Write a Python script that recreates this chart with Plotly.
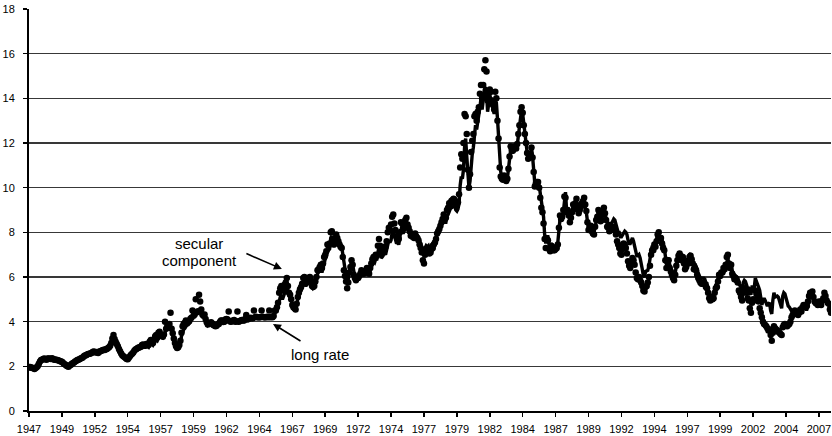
import plotly.graph_objects as go

# Monthly values, Jan 1947 .. Dec 2007 (12 per row = one year)
long_rate = [
    1.95, 1.96, 1.95, 1.93, 1.92, 1.90, 1.92, 1.95, 2.00, 2.10, 2.20, 2.25,  # 1947
    2.28, 2.30, 2.32, 2.30, 2.30, 2.32, 2.33, 2.33, 2.32, 2.33, 2.32, 2.30,  # 1948
    2.30, 2.28, 2.27, 2.25, 2.25, 2.22, 2.18, 2.15, 2.10, 2.08, 2.05, 2.02,  # 1949
    2.00, 2.02, 2.05, 2.10, 2.12, 2.15, 2.20, 2.22, 2.25, 2.28, 2.30, 2.32,  # 1950
    2.35, 2.38, 2.42, 2.45, 2.48, 2.50, 2.52, 2.55, 2.55, 2.58, 2.62, 2.65,  # 1951
    2.62, 2.60, 2.62, 2.58, 2.62, 2.65, 2.68, 2.68, 2.72, 2.70, 2.72, 2.75,  # 1952
    2.78, 2.80, 2.85, 2.95, 3.10, 3.25, 3.15, 3.05, 2.95, 2.85, 2.75, 2.65,  # 1953
    2.55, 2.48, 2.45, 2.40, 2.35, 2.30, 2.30, 2.35, 2.42, 2.48, 2.52, 2.58,  # 1954
    2.65, 2.70, 2.72, 2.75, 2.78, 2.80, 2.82, 2.88, 2.90, 2.85, 2.85, 2.90,  # 1955
    2.88, 2.85, 2.95, 3.00, 3.00, 2.95, 3.05, 3.15, 3.20, 3.15, 3.30, 3.35,  # 1956
    3.40, 3.35, 3.30, 3.40, 3.55, 3.65, 3.75, 3.85, 3.85, 3.80, 3.65, 3.45,  # 1957
    3.15, 3.00, 2.95, 2.85, 2.85, 2.90, 3.05, 3.35, 3.55, 3.65, 3.70, 3.80,  # 1958
    3.90, 3.95, 4.00, 4.10, 4.15, 4.20, 4.25, 4.30, 4.35, 4.40, 4.45, 4.50,  # 1959
    4.55, 4.45, 4.30, 4.25, 4.30, 4.10, 3.95, 3.85, 3.90, 3.90, 3.95, 3.90,  # 1960
    3.85, 3.85, 3.80, 3.80, 3.85, 3.85, 3.95, 4.00, 4.00, 3.95, 3.95, 4.05,  # 1961
    4.10, 4.10, 4.05, 4.00, 4.00, 4.00, 4.05, 4.05, 4.00, 4.00, 4.00, 4.00,  # 1962
    4.00, 4.05, 4.05, 4.05, 4.05, 4.10, 4.10, 4.10, 4.10, 4.15, 4.15, 4.15,  # 1963
    4.15, 4.20, 4.20, 4.20, 4.20, 4.20, 4.20, 4.20, 4.20, 4.20, 4.20, 4.20,  # 1964
    4.20, 4.20, 4.20, 4.20, 4.20, 4.20, 4.20, 4.25, 4.35, 4.45, 4.60, 4.80,  # 1965
    4.90, 5.10, 5.20, 5.00, 5.15, 5.25, 5.35, 5.55, 5.40, 5.15, 5.10, 4.90,  # 1966
    4.70, 4.65, 4.60, 4.60, 4.80, 5.05, 5.20, 5.35, 5.40, 5.55, 5.80, 5.85,  # 1967
    5.60, 5.65, 5.80, 5.70, 5.85, 5.75, 5.55, 5.50, 5.55, 5.70, 5.90, 6.15,  # 1968
    6.20, 6.30, 6.35, 6.20, 6.40, 6.70, 6.80, 6.90, 7.20, 7.20, 7.25, 7.75,  # 1969
    7.85, 7.55, 7.35, 7.55, 7.75, 7.65, 7.55, 7.45, 7.35, 7.35, 7.00, 6.50,  # 1970
    6.25, 6.05, 5.80, 5.90, 6.25, 6.45, 6.70, 6.55, 6.15, 6.00, 5.90, 6.00,  # 1971
    6.00, 6.10, 6.15, 6.25, 6.15, 6.15, 6.15, 6.15, 6.30, 6.25, 6.10, 6.30,  # 1972
    6.45, 6.60, 6.70, 6.65, 6.80, 6.75, 7.10, 7.35, 7.15, 6.85, 6.90, 6.95,  # 1973
    7.05, 7.00, 7.25, 7.55, 7.65, 7.55, 7.65, 8.00, 8.05, 7.85, 7.70, 7.50,  # 1974
    7.55, 7.45, 7.75, 8.15, 8.10, 7.95, 8.05, 8.30, 8.40, 8.15, 8.05, 7.95,  # 1975
    7.80, 7.85, 7.80, 7.80, 8.00, 7.85, 7.85, 7.75, 7.60, 7.50, 7.35, 7.10,  # 1976
    7.20, 7.35, 7.40, 7.35, 7.40, 7.25, 7.30, 7.45, 7.45, 7.55, 7.60, 7.70,  # 1977
    7.95, 8.05, 8.10, 8.20, 8.35, 8.45, 8.60, 8.45, 8.45, 8.75, 8.80, 9.00,  # 1978
    9.05, 9.10, 9.15, 9.20, 9.20, 9.00, 8.95, 9.05, 9.30, 10.10, 10.50, 10.40,  # 1979
    10.80, 11.80, 12.20, 11.40, 10.40, 10.00, 10.30, 11.00, 11.50, 11.80, 12.60, 12.80,  # 1980
    12.60, 12.90, 13.10, 13.60, 14.00, 13.50, 13.90, 14.40, 14.50, 14.30, 13.40, 13.70,  # 1981
    14.10, 14.00, 13.70, 13.50, 13.30, 13.90, 13.80, 13.10, 12.40, 11.20, 10.70, 10.50,  # 1982
    10.40, 10.60, 10.50, 10.35, 10.40, 10.80, 11.30, 11.70, 11.60, 11.60, 11.70, 11.80,  # 1983
    11.70, 11.90, 12.30, 12.70, 13.30, 13.50, 13.30, 12.80, 12.40, 12.00, 11.60, 11.40,  # 1984
    11.40, 11.50, 11.80, 11.40, 10.80, 10.20, 10.30, 10.30, 10.30, 10.10, 9.70, 9.30,  # 1985
    9.10, 8.70, 7.90, 7.50, 7.80, 7.80, 7.45, 7.35, 7.50, 7.45, 7.35, 7.30,  # 1986
    7.35, 7.40, 7.55, 8.10, 8.60, 8.50, 8.60, 8.90, 9.50, 9.80, 9.00, 9.10,  # 1987
    8.80, 8.50, 8.70, 8.90, 9.20, 9.00, 9.20, 9.30, 9.00, 8.80, 8.95, 9.10,  # 1988
    9.10, 9.20, 9.30, 9.10, 8.90, 8.50, 8.20, 8.30, 8.30, 8.10, 8.00, 8.00,  # 1989
    8.30, 8.60, 8.70, 8.90, 8.80, 8.50, 8.50, 8.90, 9.05, 8.85, 8.60, 8.40,  # 1990
    8.40, 8.30, 8.40, 8.40, 8.50, 8.60, 8.55, 8.35, 8.10, 8.00, 8.00, 7.80,  # 1991
    7.80, 7.90, 8.00, 8.05, 8.00, 7.90, 7.65, 7.50, 7.50, 7.60, 7.75, 7.60,  # 1992
    7.40, 7.15, 6.95, 6.95, 7.00, 6.85, 6.65, 6.35, 6.05, 6.00, 6.25, 6.30,  # 1993
    6.30, 6.50, 6.90, 7.25, 7.40, 7.35, 7.55, 7.45, 7.70, 7.95, 8.00, 7.80,  # 1994
    7.80, 7.60, 7.45, 7.35, 6.95, 6.60, 6.80, 6.85, 6.55, 6.35, 6.25, 6.05,  # 1995
    5.95, 6.20, 6.60, 6.80, 6.95, 7.05, 7.00, 6.80, 6.95, 6.70, 6.45, 6.60,  # 1996
    6.85, 6.75, 7.00, 7.05, 6.90, 6.75, 6.50, 6.60, 6.50, 6.35, 6.15, 6.00,  # 1997
    5.95, 5.95, 5.95, 5.95, 5.90, 5.70, 5.70, 5.50, 5.20, 5.00, 5.25, 5.10,  # 1998
    5.15, 5.45, 5.65, 5.70, 5.95, 6.20, 6.10, 6.15, 6.15, 6.35, 6.30, 6.45,  # 1999
    6.75, 6.85, 6.50, 6.40, 6.50, 6.20, 6.10, 6.00, 6.05, 6.00, 5.95, 5.70,  # 2000
    5.60, 5.55, 5.45, 5.75, 5.85, 5.80, 5.65, 5.50, 5.50, 5.35, 5.20, 5.55,  # 2001
    5.55, 5.50, 5.95, 5.80, 5.70, 5.55, 5.40, 5.05, 4.75, 4.95, 5.05, 4.95,  # 2002
    4.85, 4.70, 4.80, 4.85, 4.50, 4.35, 4.95, 5.30, 5.10, 5.15, 5.15, 5.10,  # 2003
    4.95, 4.85, 4.60, 5.15, 5.30, 5.25, 5.05, 4.85, 4.70, 4.65, 4.55, 4.50,  # 2004
    4.40, 4.35, 4.55, 4.50, 4.35, 4.30, 4.40, 4.55, 4.45, 4.65, 4.75, 4.65,  # 2005
    4.55, 4.55, 4.75, 5.05, 5.20, 5.15, 5.15, 4.95, 4.80, 4.80, 4.70, 4.65,  # 2006
    4.85, 4.80, 4.65, 4.85, 4.95, 5.20, 5.10, 4.90, 4.80, 4.75, 4.50, 4.40,  # 2007
]

secular_component = [
    1.95, 1.97, 1.95, 1.92, 1.93, 1.88, 1.93, 1.96, 2.02, 2.12, 2.22, 2.28,  # 1947
    2.30, 2.33, 2.35, 2.32, 2.30, 2.35, 2.35, 2.34, 2.33, 2.36, 2.33, 2.30,  # 1948
    2.31, 2.28, 2.28, 2.26, 2.24, 2.22, 2.20, 2.16, 2.10, 2.08, 2.04, 2.00,  # 1949
    1.98, 2.04, 2.06, 2.12, 2.14, 2.17, 2.22, 2.24, 2.28, 2.30, 2.32, 2.35,  # 1950
    2.37, 2.40, 2.45, 2.48, 2.50, 2.53, 2.55, 2.56, 2.58, 2.60, 2.64, 2.66,  # 1951
    2.64, 2.62, 2.64, 2.60, 2.65, 2.68, 2.70, 2.72, 2.74, 2.73, 2.76, 2.78,  # 1952
    2.82, 2.85, 2.92, 3.05, 3.25, 3.40, 3.22, 3.10, 3.00, 2.90, 2.78, 2.68,  # 1953
    2.58, 2.50, 2.45, 2.42, 2.37, 2.33, 2.32, 2.38, 2.45, 2.52, 2.56, 2.62,  # 1954
    2.70, 2.75, 2.78, 2.82, 2.84, 2.86, 2.88, 2.95, 2.98, 2.92, 2.93, 3.00,  # 1955
    2.98, 2.96, 3.10, 3.18, 3.15, 3.05, 3.20, 3.35, 3.40, 3.30, 3.50, 3.55,  # 1956
    3.42, 3.38, 3.32, 3.42, 4.00, 3.68, 3.78, 3.87, 3.90, 4.40, 3.68, 3.48,  # 1957
    3.25, 3.05, 2.90, 2.82, 2.85, 2.95, 3.15, 3.50, 3.80, 3.90, 3.95, 4.05,  # 1958
    3.92, 3.97, 4.02, 4.12, 4.17, 4.50, 4.27, 4.32, 5.00, 4.42, 4.47, 5.20,  # 1959
    4.90, 4.55, 4.32, 4.27, 4.32, 4.12, 3.97, 3.87, 3.92, 3.92, 3.97, 3.92,  # 1960
    3.85, 3.83, 3.80, 3.82, 3.88, 3.90, 3.98, 4.05, 4.05, 3.98, 4.00, 4.10,  # 1961
    4.12, 4.10, 4.45, 4.02, 4.00, 4.02, 4.05, 4.07, 4.00, 4.02, 4.45, 4.00,  # 1962
    4.02, 4.05, 4.07, 4.05, 4.05, 4.12, 4.30, 4.10, 4.12, 4.15, 4.17, 4.15,  # 1963
    4.15, 4.50, 4.20, 4.22, 4.20, 4.20, 4.20, 4.20, 4.50, 4.22, 4.20, 4.20,  # 1964
    4.20, 4.22, 4.20, 4.50, 4.20, 4.22, 4.20, 4.25, 4.50, 4.50, 4.65, 4.85,  # 1965
    5.30, 5.50, 5.60, 5.40, 5.50, 5.65, 5.75, 5.95, 5.60, 5.30, 5.20, 5.00,  # 1966
    4.75, 4.65, 4.60, 4.55, 4.80, 5.10, 5.30, 5.45, 5.55, 5.70, 5.95, 6.00,  # 1967
    5.70, 5.75, 5.95, 5.85, 6.00, 5.85, 5.60, 5.55, 5.60, 5.80, 6.00, 6.30,  # 1968
    6.35, 6.45, 6.55, 6.40, 6.60, 6.90, 7.00, 7.15, 7.45, 7.40, 7.50, 8.00,  # 1969
    8.05, 7.70, 7.45, 7.70, 7.90, 7.75, 7.60, 7.45, 7.35, 7.30, 6.90, 6.30,  # 1970
    6.05, 5.80, 5.50, 5.75, 6.20, 6.45, 6.75, 6.55, 6.10, 5.95, 5.85, 5.95,  # 1971
    5.95, 6.05, 6.15, 6.30, 6.20, 6.15, 6.20, 6.20, 6.40, 6.30, 6.15, 6.40,  # 1972
    6.60, 6.80, 6.90, 6.85, 7.00, 6.95, 7.40, 7.70, 7.40, 7.05, 7.10, 7.20,  # 1973
    7.35, 7.35, 7.60, 8.00, 8.20, 8.10, 8.35, 8.70, 8.80, 8.40, 8.10, 7.80,  # 1974
    7.85, 7.70, 8.00, 8.45, 8.40, 8.20, 8.30, 8.55, 8.65, 8.35, 8.20, 8.05,  # 1975
    7.85, 7.90, 7.80, 7.75, 7.95, 7.80, 7.75, 7.65, 7.45, 7.30, 7.10, 6.75,  # 1976
    6.60, 7.00, 7.15, 7.10, 7.20, 7.05, 7.10, 7.25, 7.30, 7.45, 7.55, 7.70,  # 1977
    7.95, 8.05, 8.15, 8.30, 8.45, 8.60, 8.80, 8.60, 8.65, 9.00, 9.10, 9.30,  # 1978
    9.30, 9.40, 9.45, 9.50, 9.45, 9.25, 9.20, 9.35, 9.70, 10.90, 11.50, 11.30,  # 1979
    12.00, 13.30, 13.20, 12.40, 10.80, 10.00, 10.60, 11.60, 12.10, 12.40, 13.20, 13.30,  # 1980
    13.00, 13.40, 13.60, 14.20, 14.60, 14.00, 14.60, 15.30, 15.70, 15.20, 13.90, 14.20,  # 1981
    14.40, 14.30, 13.90, 13.70, 13.50, 14.30, 14.00, 13.00, 12.20, 10.90, 10.50, 10.40,  # 1982
    10.35, 10.55, 10.45, 10.30, 10.40, 10.85, 11.40, 11.85, 11.70, 11.65, 11.75, 11.85,  # 1983
    11.75, 11.95, 12.40, 12.80, 13.40, 13.60, 13.35, 12.80, 12.40, 12.00, 11.55, 11.30,  # 1984
    11.35, 11.50, 11.80, 11.35, 10.70, 10.05, 10.20, 10.25, 10.25, 10.00, 9.55, 9.10,  # 1985
    8.90, 8.40, 7.70, 7.30, 7.70, 7.65, 7.25, 7.15, 7.40, 7.35, 7.20, 7.20,  # 1986
    7.25, 7.30, 7.45, 8.20, 8.75, 8.60, 8.70, 9.00, 9.60, 9.55, 8.90, 9.00,  # 1987
    8.75, 8.45, 8.65, 8.90, 9.25, 9.05, 9.30, 9.50, 9.10, 8.85, 9.00, 9.25,  # 1988
    9.30, 9.40, 9.55, 9.25, 8.95, 8.45, 8.10, 8.25, 8.30, 8.05, 7.95, 7.90,  # 1989
    8.25, 8.55, 8.70, 9.00, 8.90, 8.50, 8.55, 8.95, 9.10, 8.85, 8.55, 8.25,  # 1990
    8.20, 8.05, 8.15, 8.10, 8.15, 8.25, 8.15, 7.90, 7.60, 7.45, 7.30, 7.05,  # 1991
    7.00, 7.25, 7.50, 7.45, 7.30, 7.05, 6.70, 6.50, 6.40, 6.60, 6.85, 6.75,  # 1992
    6.55, 6.20, 5.95, 5.90, 6.00, 5.85, 5.75, 5.60, 5.40, 5.35, 5.55, 5.60,  # 1993
    5.75, 6.00, 6.50, 7.00, 7.20, 7.20, 7.45, 7.35, 7.60, 7.90, 8.00, 7.75,  # 1994
    7.75, 7.50, 7.30, 7.20, 6.75, 6.40, 6.65, 6.75, 6.40, 6.25, 6.10, 5.95,  # 1995
    5.85, 6.10, 6.50, 6.75, 6.95, 7.05, 6.95, 6.75, 6.90, 6.60, 6.35, 6.45,  # 1996
    6.70, 6.60, 6.90, 6.95, 6.80, 6.60, 6.35, 6.40, 6.30, 6.10, 5.95, 5.85,  # 1997
    5.75, 5.70, 5.70, 5.75, 5.70, 5.55, 5.50, 5.30, 5.05, 4.95, 5.10, 5.00,  # 1998
    5.05, 5.30, 5.50, 5.55, 5.80, 6.10, 6.05, 6.20, 6.20, 6.40, 6.35, 6.55,  # 1999
    6.90, 7.00, 6.60, 6.40, 6.55, 6.15, 6.05, 5.90, 5.95, 5.85, 5.75, 5.40,  # 2000
    5.30, 5.10, 4.95, 5.30, 5.50, 5.40, 5.30, 5.05, 4.95, 4.60, 4.40, 4.85,  # 2001
    5.00, 4.95, 5.40, 5.25, 5.10, 4.90, 4.60, 4.40, 4.20, 4.00, 3.90, 3.85,  # 2002
    3.80, 3.70, 3.60, 3.65, 3.40, 3.15, 3.50, 3.80, 3.70, 3.65, 3.60, 3.55,  # 2003
    3.50, 3.45, 3.40, 3.75, 3.85, 3.90, 3.85, 3.80, 3.85, 3.90, 4.00, 4.20,  # 2004
    4.30, 4.35, 4.50, 4.45, 4.35, 4.30, 4.40, 4.55, 4.45, 4.65, 4.75, 4.70,  # 2005
    4.65, 4.70, 4.90, 5.15, 5.30, 5.20, 5.35, 5.10, 4.90, 4.85, 4.80, 4.75,  # 2006
    4.90, 4.85, 4.75, 4.95, 5.05, 5.30, 5.15, 4.95, 4.85, 4.80, 4.55, 4.40,  # 2007
]

tick_labels = ["1947", "1949", "1952", "1954", "1957", "1959", "1962", "1964",
               "1967", "1969", "1972", "1974", "1977", "1979", "1982", "1984",
               "1987", "1989", "1992", "1994", "1997", "1999", "2002", "2004",
               "2007"]

months = list(range(len(long_rate)))
tick_step = 30  # one label every 30 months
tick_positions = [i * tick_step for i in range(len(tick_labels))]

FONT = "Liberation Sans, Arial, sans-serif"

fig = go.Figure()
fig.add_trace(go.Scatter(
    x=months, y=secular_component, mode="markers",
    marker=dict(color="black", size=6.5, line=dict(width=0)),
    name="secular component", hoverinfo="skip"))
fig.add_trace(go.Scatter(
    x=months, y=long_rate, mode="lines",
    line=dict(color="black", width=3.4),
    name="long rate", hoverinfo="skip"))

annots = [
    dict(x=155, y=7.52, text="secular", showarrow=False),
    dict(x=155, y=6.76, text="component", showarrow=False),
    dict(x=265, y=2.51, text="long rate", showarrow=False),
    dict(x=230.5, y=6.36, text="", showarrow=True, ax=-37, ay=-16,
         arrowhead=2, arrowsize=1, arrowwidth=1.6, arrowcolor="black"),
    dict(x=222.4, y=3.9, text="", showarrow=True, ax=29, ay=18,
         arrowhead=2, arrowsize=1, arrowwidth=1.6, arrowcolor="black"),
]
for a in annots:
    a.update(xref="x", yref="y", font=dict(family=FONT, size=15, color="black"))
    if a["showarrow"]:
        a.update(axref="pixel", ayref="pixel")

fig.update_layout(
    width=832, height=436,
    margin=dict(l=29, r=1, t=9, b=25, autoexpand=False),
    plot_bgcolor="white", paper_bgcolor="white",
    showlegend=False,
    font=dict(family=FONT, size=11, color="black"),
    annotations=annots,
    xaxis=dict(
        range=[0, len(long_rate) - 1], automargin=False,
        tickmode="array", tickvals=tick_positions, ticktext=tick_labels,
        ticks="outside", ticklen=4, tickwidth=1.5, tickcolor="black",
        showline=True, linecolor="black", linewidth=2,
        showgrid=False, zeroline=False,
        tickfont=dict(family=FONT, size=11, color="black"),
        ticklabelstandoff=3,
    ),
    yaxis=dict(
        range=[0, 18], dtick=2, tick0=0, automargin=False,
        ticks="outside", ticklen=4, tickwidth=1.5, tickcolor="black",
        showline=True, linecolor="black", linewidth=2,
        showgrid=True, gridcolor="#383838", gridwidth=1.3,
        zeroline=False,
        tickfont=dict(family=FONT, size=11, color="black"),
        ticklabelstandoff=6,
    ),
)

fig.write_html(
    "out.html",
    config={"displayModeBar": False, "staticPlot": True},
    post_script="document.body.style.margin='0';document.body.style.overflow='hidden';",
)
